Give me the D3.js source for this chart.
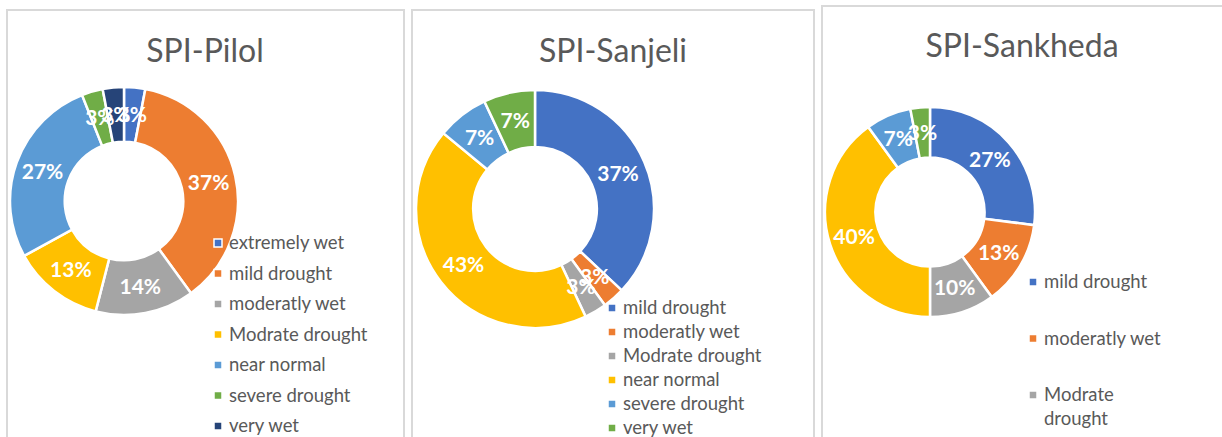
<!DOCTYPE html>
<html>
<head>
<meta charset="utf-8">
<script src="https://cdn.jsdelivr.net/npm/d3@7"></script>
<style>
  body { margin: 0; background: #fff; overflow: hidden; }
  svg { display: block; font-family: Lato, "Open Sans", sans-serif; }
</style>
</head>
<body>
<svg id="chart" width="1222" height="437"></svg>
<script>
// chart data
var titles = ["SPI-Pilol", "SPI-Sanjeli", "SPI-Sankheda"];

var pilolCats = ["extremely wet", "mild drought", "moderatly wet", "Modrate drought", "near normal", "severe drought", "very wet"];
var pilolVals = [3, 37, 14, 13, 27, 3, 3];

var sanjeliCats = ["mild drought", "moderatly wet", "Modrate drought", "near normal", "severe drought", "very wet"];
var sanjeliVals = [37, 3, 3, 43, 7, 7];

var sankhedaCats = ["mild drought", "moderatly wet", "Modrate drought", "near normal", "severe drought", "very wet"];
var sankhedaVals = [27, 13, 10, 40, 7, 3];

var palette = ["#4472C4", "#ED7D31", "#A5A5A5", "#FFC000", "#5B9BD5", "#70AD47", "#264478"];

var height = 437;

// layout of each panel (frame, donut, legend)
var panels = [
  {title: titles[0], cats: pilolCats, vals: pilolVals,
   box: [7, 10, 397, 460], titleX: 205, titleY: 62,
   cx: 124, cy: 201, r: 114, legX: 218, legY: 243, legStep: 30.5, wrap: 999},
  {title: titles[1], cats: sanjeliCats, vals: sanjeliVals,
   box: [412, 10, 402, 460], titleX: 613, titleY: 62,
   cx: 535, cy: 209, r: 119, legX: 612, legY: 308, legStep: 24, wrap: 999},
  {title: titles[2], cats: sankhedaCats, vals: sankhedaVals,
   box: [822, 6, 420, 460], titleX: 1022, titleY: 57,
   cx: 930, cy: 212, r: 105, legX: 1033, legY: 282, legStep: 56.5, wrap: 120}
];

var svg = d3.select("#chart");

var pie = d3.pie().sort(null).value(function(d) { return d; });

panels.forEach(function(p) {
  var g = svg.append("g");

  g.append("rect")
    .attr("x", p.box[0]).attr("y", p.box[1])
    .attr("width", p.box[2]).attr("height", p.box[3])
    .attr("fill", "#fff").attr("stroke", "#d9d9d9").attr("stroke-width", 2);

  g.append("text")
    .attr("x", p.titleX).attr("y", p.titleY)
    .attr("text-anchor", "middle")
    .attr("font-size", 32).attr("fill", "#595959")
    .text(p.title);

  var arc = d3.arc().innerRadius(p.r * 0.52).outerRadius(p.r);
  var arcs = pie(p.vals);

  var donut = g.append("g").attr("transform", "translate(" + p.cx + "," + p.cy + ")");
  donut.selectAll("path").data(arcs).enter().append("path")
    .attr("d", arc)
    .attr("fill", function(d, i) { return palette[i]; })
    .attr("stroke", "#fff").attr("stroke-width", 2.5);

  donut.selectAll("text").data(arcs).enter().append("text")
    .attr("transform", function(d) { return "translate(" + arc.centroid(d) + ")"; })
    .attr("text-anchor", "middle").attr("dy", "0.36em")
    .attr("font-size", 21).attr("font-weight", "bold").attr("fill", "#fff")
    .text(function(d) { return d.data + "%"; });

  // legend (entries below the window are not drawn, like the cut-off original)
  var leg = g.append("g");
  var y = p.legY;
  p.cats.forEach(function(c, i) {
    if (y > height) return;
    leg.append("rect")
      .attr("x", p.legX - 4).attr("y", y - 4)
      .attr("width", 8).attr("height", 8)
      .attr("fill", palette[i]).attr("stroke", "#fff").attr("stroke-width", 1.5);
    var t = leg.append("text")
      .attr("x", p.legX + 11).attr("y", y)
      .attr("dy", "0.35em")
      .attr("font-size", 18.5).attr("fill", "#595959")
      .text(c);
    // wrap long names onto a second line
    if (t.node().getComputedTextLength() > p.wrap) {
      var words = c.split(" ");
      t.text(null);
      t.append("tspan").attr("x", p.legX + 11).text(words[0]);
      t.append("tspan").attr("x", p.legX + 11).attr("dy", 24).text(words.slice(1).join(" "));
      y += 24;
    }
    y += p.legStep;
  });
});
</script>
</body>
</html>
